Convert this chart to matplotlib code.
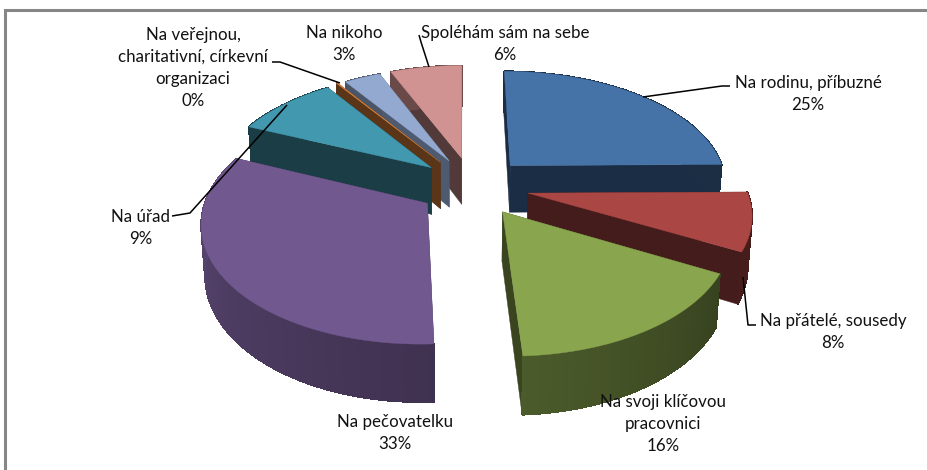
import numpy as np
import matplotlib
matplotlib.use('Agg')
import matplotlib.pyplot as plt
from matplotlib.patches import Polygon

plt.rcParams['font.family'] = ['Lato', 'DejaVu Sans']

# hodnoty vyctene z grafu
labels = ['Na rodinu, příbuzné', 'Na přátelé, sousedy', 'Na svoji klíčovou\npracovnici',
          'Na pečovatelku', 'Na úřad', 'Na veřejnou,\ncharitativní, církevní\norganizaci',
          'Na nikoho', 'Spoléhám sám na sebe']
values = [25, 8, 16.5, 32.5, 9, 0.1, 3.2, 6.3]
percent_text = ['25%', '8%', '16%', '33%', '9%', '0%', '3%', '6%']

top_colors = ['#4572a7', '#aa4643', '#89a54e', '#71588f', '#4198af', '#db843d', '#93a9cf', '#d19392']
wall_colors = ['#1b2d44', '#441c1b', '#3a4520', '#402f52', '#1a3d46', '#5a3518', '#4d5a70', '#533a3a']
# jas oblouku na zacatku a na konci vysece
arc_shade = [(0.4, 0.4), (0.42, 0.42), (0.40, 0.55), (0.56, 0.82), (0.4, 0.4),
             (0.4, 0.4), (0.5, 0.5), (0.5, 0.5)]
draw_order = [7, 6, 5, 4, 0, 3, 1, 2]
explode_x = [0.31, 0.30, 0.32, 0.20, 0.20, 0.20, 0.15, 0.06]

label_xy = [(808, 94), (833, 332), (663, 424), (395, 433), (141, 228),
            (193, 68), (344, 44), (505, 44)]

# vodici cary
leaders = [[(643, 97), (722, 86), (730, 86)],
           [(743, 277), (748, 325), (756, 325)],
           [(287, 105), (190, 213), (172, 216)],
           [(340, 83), (280, 62), (272, 62)],
           [(429, 67), (421, 42), (419, 35)]]

# projekce kolace
cx, cy = 464, 186
rx, ry = 217.7, 114
persp = 0.15
depth = 48
expl_y = 0.26


def project(x, y, lower=False):
    s = 1 / (1 + persp * y)
    px = cx + rx * x * s
    py = cy - ry * y * s
    if lower:
        px = cx + (px - cx) * 0.985
        py = py + depth * s
    return px, py


def shade(color, f):
    return np.array(matplotlib.colors.to_rgb(color)) * f


fig = plt.figure(figsize=(9.28, 4.70), dpi=100)
ax = fig.add_axes([0, 0, 1, 1])
ax.set_xlim(0, 928)
ax.set_ylim(470, 0)
ax.axis('off')

ax.plot([5.5, 5.5, 928], [470, 10, 10], color='#868686', lw=2.2, solid_joinstyle='miter')

total = sum(values)
edges = np.concatenate([[0], np.cumsum(values)]) / total * 2 * np.pi

for i in draw_order:
    a0, a1 = edges[i], edges[i + 1]
    mid = (a0 + a1) / 2
    ex = explode_x[i] * np.sin(mid)
    ey = expl_y * np.cos(mid)
    ang = np.linspace(a0, a1, 90)
    xs = ex + np.sin(ang)
    ys = ey + np.cos(ang)

    # radialni steny
    ax_t = project(ex, ey)
    ax_b = project(ex, ey, True)
    for k in (0, -1):
        p_t = project(xs[k], ys[k])
        p_b = project(xs[k], ys[k], True)
        ax.add_patch(Polygon([ax_t, p_t, p_b, ax_b], closed=True, fc=wall_colors[i], ec=wall_colors[i], lw=0.3))

    # oblouk
    tx, ty = project(xs, ys)
    bx, by = project(xs, ys, True)
    f0, f1 = arc_shade[i]
    for j in range(len(ang) - 1):
        f = f0 + (f1 - f0) * j / (len(ang) - 2)
        c = shade(top_colors[i], f)
        ax.add_patch(Polygon([(tx[j], ty[j]), (tx[j + 1], ty[j + 1]), (bx[j + 1], by[j + 1]), (bx[j], by[j])],
                             closed=True, fc=c, ec=c, lw=0.6, antialiased=False))

    # horni plocha
    ax.add_patch(Polygon(np.vstack([[ax_t], np.column_stack([tx, ty])]), closed=True,
                         fc=top_colors[i], ec=top_colors[i], lw=0.3))

for line in leaders:
    pts = np.array(line)
    ax.plot(pts[:, 0], pts[:, 1], color='black', lw=1.1, solid_capstyle='butt')

for name, pct, (x, y) in zip(labels, percent_text, label_xy):
    ax.text(x, y, name + '\n' + pct, ha='center', va='center', fontsize=12.2, color='#111111',
            linespacing=1.45)

fig.savefig('out.png', dpi=100)
